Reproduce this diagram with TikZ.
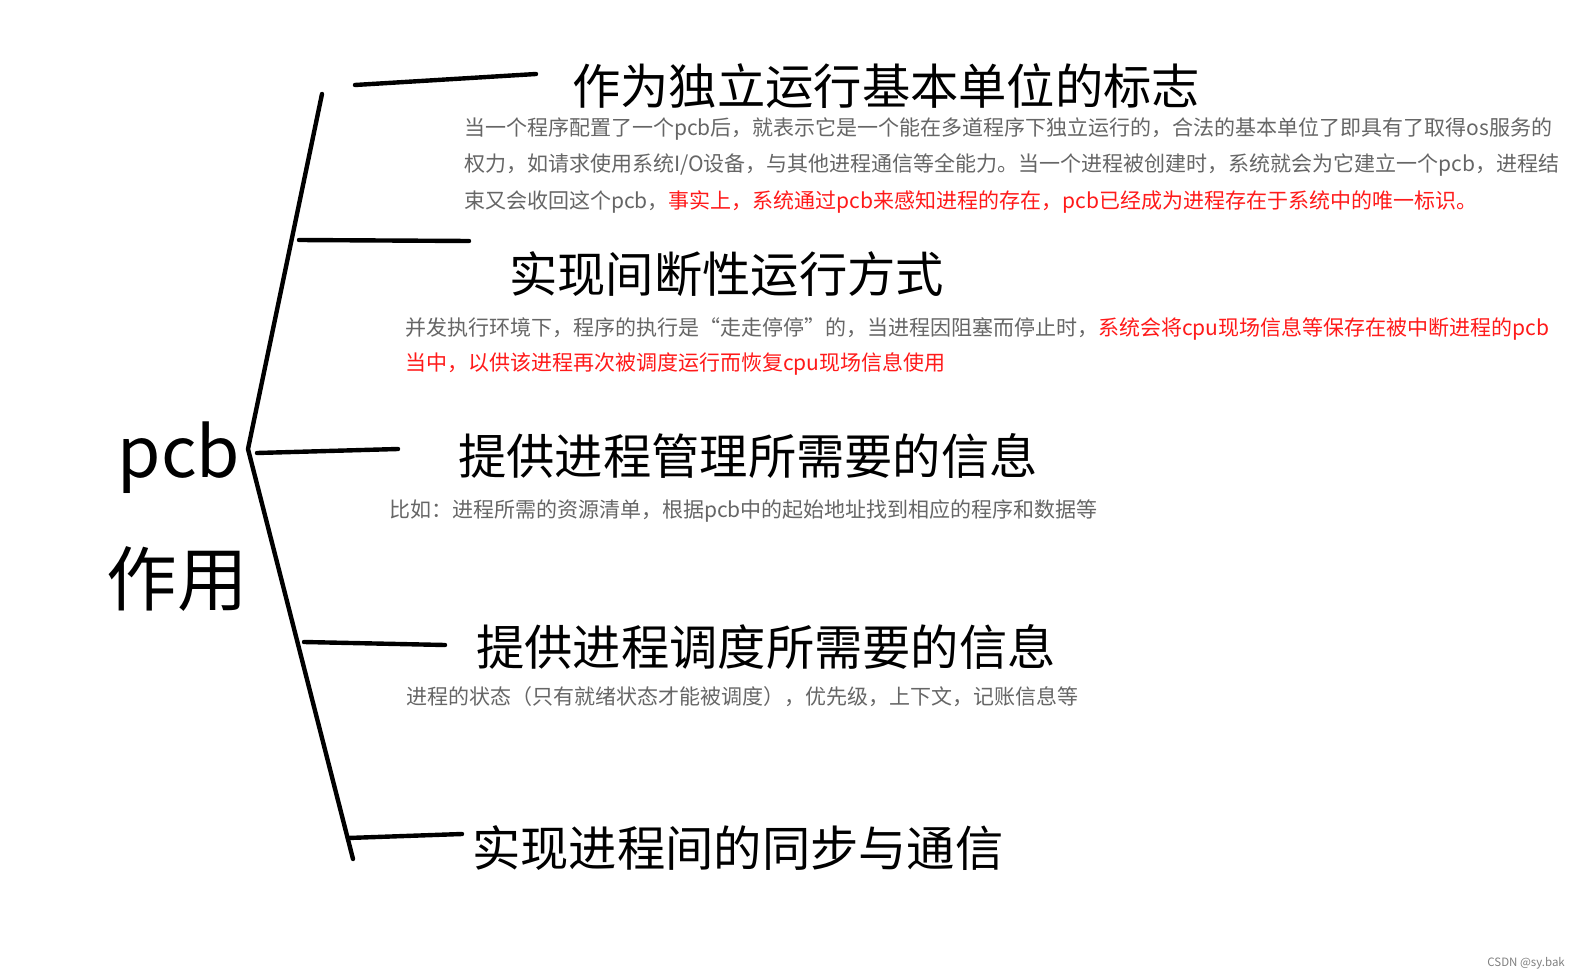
\documentclass[tikz,border=0pt]{standalone}
\usepackage{fontspec}
\setmainfont{Noto Sans CJK SC}
\usetikzlibrary{positioning}
\definecolor{bodygray}{HTML}{666666}
\definecolor{hlred}{HTML}{FF1A1A}

\begin{document}
\begin{tikzpicture}[x=1pt,y=-1pt,
  stroke/.style={line width=4.4pt,line cap=round,line join=round},
  title/.style={anchor=west,inner sep=0pt,font=\fontsize{48.3}{50}\selectfont},
  body/.style={anchor=west,inner sep=0pt,text=bodygray,font=\fontsize{21}{24}\selectfont},
  big/.style={inner sep=0pt,font=\fontsize{70.5}{72}\selectfont}]
\useasboundingbox (0,0) rectangle (1580,979);
\fill[white] (0,0) rectangle (1580,979);

\coordinate (sTop) at (322,94);
\coordinate (sMid) at (248,449);
\coordinate (sBot) at (353,859);
\draw[stroke] (sTop) -- (sMid) -- (sBot);

\coordinate (b1s) at (355,85);  \coordinate (b1e) at (536,74);
\coordinate (b2s) at (299,240); \coordinate (b2e) at (469,241);
\coordinate (b3s) at (257,453); \coordinate (b3e) at (398,449);
\coordinate (b4s) at (304,642); \coordinate (b4e) at (445,645);
\coordinate (b5s) at (348,838); \coordinate (b5e) at (462,834);
\draw[stroke] (b1s) -- (b1e);
\draw[stroke] (b2s) -- (b2e);
\draw[stroke] (b3s) -- (b3e);
\draw[stroke] (b4s) -- (b4e);
\draw[stroke] (b5s) -- (b5e);

\node[big,anchor=base,font=\fontsize{70}{72}\selectfont] (pcb) at (179,477) {pcb};
\node[big] (use) at (177,579) {作用};

\node[title] (t1) at (572,86) {作为独立运行基本单位的标志};
\node[body] (p1a) at (464,129) {当一个程序配置了一个pcb后，就表示它是一个能在多道程序下独立运行的，合法的基本单位了即具有了取得os服务的};
\node[body] (p1b) at (464,165) {权力，如请求使用系统I/O设备，与其他进程通信等全能力。当一个进程被创建时，系统就会为它建立一个pcb，进程结};
\node[body] (p1c) at (464,202) {束又会收回这个pcb，\textcolor{hlred}{事实上，系统通过pcb来感知进程的存在，pcb已经成为进程存在于系统中的唯一标识。}};

\node[title] (t2) at (509,274) {实现间断性运行方式};
\node[body] (p2a) at (405,329) {并发执行环境下，程序的执行是“走走停停”的，当进程因阻塞而停止时，\textcolor{hlred}{系统会将cpu现场信息等保存在被中断进程的pcb}};
\node[body,text=hlred] (p2b) at (405,364) {当中，以供该进程再次被调度运行而恢复cpu现场信息使用};

\node[title] (t3) at (458,456) {提供进程管理所需要的信息};
\node[body] (p3) at (389,511) {比如：进程所需的资源清单，根据pcb中的起始地址找到相应的程序和数据等};

\node[title] (t4) at (476,647) {提供进程调度所需要的信息};
\node[body] (p4) at (406,697) {进程的状态（只有就绪状态才能被调度），优先级，上下文，记账信息等};

\node[title] (t5) at (472,848) {实现进程间的同步与通信};

\node[anchor=east,inner sep=0pt,text=gray,font=\fontsize{11.5}{13}\selectfont] (mark) at (1565,963) {CSDN @sy.bak};
\end{tikzpicture}
\end{document}
